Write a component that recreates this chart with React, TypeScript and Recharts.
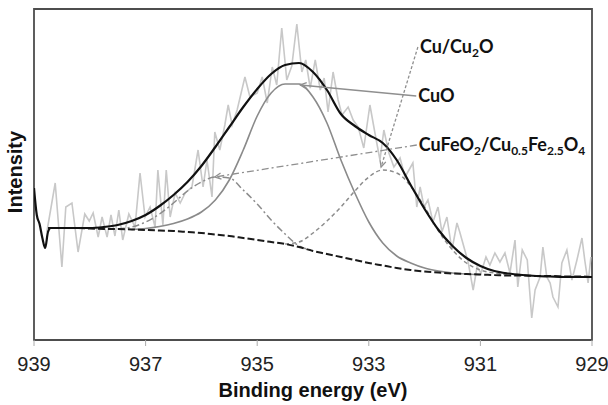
import { LineChart, Line, XAxis, YAxis, ReferenceArea, ReferenceLine } from 'recharts'

// binding energy grid (eV) for the fitted curves
const ENERGY = [
  939, 938.75, 938.5, 938.25, 938, 937.75, 937.5, 937.25, 937, 936.75, 936.5, 936.25, 936, 935.75,
  935.5, 935.25, 935, 934.75, 934.5, 934.25, 934, 933.75, 933.5, 933.25, 933, 932.75, 932.5, 932.25,
  932, 931.75, 931.5, 931.25, 931, 930.75, 930.5, 930.25, 930, 929.75, 929.5, 929.25, 929,
]

const background = [
  null, 112, 112, 112, 111.5, 111, 111, 110.5, 110, 109.5, 109, 108, 107, 105.5, 104, 102, 100, 98, 96,
  93, 89, 86, 83, 80, 77, 74.5, 72, 70, 68.5, 67.5, 66.5, 66, 65.5, 65, 64.5, 64.5, 64, 64, 63.5, 63.5, 63,
]

const cuO = [
  null, null, null, null, null, null, null, 110.5, 111.5, 113.5, 116.5, 121, 128, 140, 160, 190, 224, 247,
  256, 256, 243, 217, 180, 147, 118, 97, 84, 77, 72, 69, 67, 66, 65.5, null, null, null, null, null,
  null, null, null,
]

const cu2O = [
  null, null, null, null, null, null, null, null, null, null, null, null, null, null, null, null, null,
  null, 96, 98, 107, 119, 133, 149, 163, 170, 167, 154, 133, 109, 90, 77, 70, 67, 65, null, null, null,
  null, null, null,
]

const cuFeO2 = [
  null, null, null, null, null, null, 111, 113, 118, 126, 137, 149, 158, 163, 162, 150, 136, 120, 106,
  94, 90, null, null, null, null, null, null, null, null, null, null, null, null, null, null, null, null,
  null, null, null, null,
]

const totalEnergy = [
  939, 938.95, 938.9, 938.85, 938.8, 938.75, 938.7, 938.5, 938.25, 938, 937.75, 937.5, 937.25, 937,
  936.75, 936.5, 936.25, 936, 935.75, 935.5, 935.25, 935, 934.75, 934.5, 934.25, 934, 933.75, 933.5,
  933.25, 933, 932.75, 932.5, 932.25, 932, 931.75, 931.5, 931.25, 931, 930.75, 930.5, 930.25, 930,
  929.75, 929.5, 929.25, 929,
]
const totalIntensity = [
  152, 125, 116, 102, 92, 108, 112, 112, 112, 112, 113, 115, 119, 125, 134, 145, 158, 174, 193, 213, 233,
  251, 266, 275, 277, 268, 250, 226, 214, 205, 197, 180, 155, 131, 110, 94, 82, 74, 69, 66.5, 65, 64,
  63.5, 63, 63, 63,
]

// measured spectrum
const rawEnergy = [
  938.77, 938.62, 938.5, 938.43, 938.32, 938.21, 938.09, 938.01, 937.94, 937.85, 937.78, 937.69, 937.62,
  937.55, 937.48, 937.41, 937.3, 937.19, 937.1, 937.01, 936.92, 936.83, 936.78, 936.69, 936.63, 936.56,
  936.47, 936.38, 936.29, 936.17, 936.06, 935.97, 935.9, 935.81, 935.76, 935.67, 935.58, 935.52, 935.45,
  935.36, 935.22, 935.13, 935.0, 934.91, 934.82, 934.73, 934.65, 934.56, 934.47, 934.38, 934.29, 934.2,
  934.13, 934.05, 933.96, 933.87, 933.8, 933.73, 933.64, 933.55, 933.48, 933.37, 933.28, 933.19, 933.09,
  932.98, 932.89, 932.8, 932.73, 932.64, 932.55, 932.44, 932.35, 932.26, 932.21, 932.14, 932.08, 932.01,
  931.94, 931.85, 931.76, 931.69, 931.6, 931.51, 931.42, 931.37, 931.29, 931.22, 931.13, 931.06, 930.99,
  930.9, 930.83, 930.74, 930.65, 930.56, 930.47, 930.38, 930.33, 930.25, 930.16, 930.08, 930.02, 929.93,
  929.88, 929.81, 929.75, 929.7, 929.61, 929.54, 929.45, 929.36, 929.27, 929.18, 929.13, 929.07, 929.02,
]
const rawIntensity = [
  108, 157, 73, 133, 137, 88, 126, 119, 127, 103, 123, 103, 125, 104, 130, 100, 126, 113, 167, 123, 133,
  113, 170, 115, 170, 123, 147, 137, 147, 153, 190, 153, 180, 143, 208, 190, 215, 235, 215, 230, 263, 243,
  247, 263, 237, 273, 255, 312, 260, 274, 316, 268, 280, 252, 280, 250, 262, 228, 268, 240, 225, 233, 220,
  213, 192, 235, 207, 180, 210, 187, 173, 182, 163, 172, 177, 133, 153, 133, 140, 118, 133, 108, 123, 90,
  117, 108, 92, 78, 50, 73, 67, 83, 75, 87, 78, 87, 67, 100, 53, 90, 80, 22, 50, 63, 93, 63, 57, 43, 33,
  77, 90, 60, 80, 102, 80, 57, 83,
]

const xTicks = [939, 937, 935, 933, 931, 929]

// leader lines: label anchor -> arrow tip, in (eV, intensity)
const leaders = [
  { id: 'cu2o', from: [932.12, 293], to: [932.78, 173], dash: '3 2' },
  { id: 'cuo', from: [932.15, 244], to: [934.23, 255], dash: undefined },
  { id: 'cufe', from: [932.14, 195], to: [935.76, 163], dash: '7 3 2 3' },
]

const pts = (xs: number[], ys: (number | null)[]) => xs.map((e, i) => ({ e, v: ys[i] }))

const annFont = 'Lato, "Open Sans", sans-serif'
const axisFont = '"Liberation Sans", Arial, sans-serif'

function labelFor(id: string, x: number, y: number) {
  const common = { x, y, fontFamily: annFont, fontWeight: 700, fontSize: 18, fill: '#111' }
  if (id === 'cu2o')
    return (
      <text {...common}>
        <tspan>Cu/Cu</tspan>
        <tspan fontSize={12} dy={4}>2</tspan>
        <tspan dy={-4}>O</tspan>
      </text>
    )
  if (id === 'cuo') return <text {...common}>CuO</text>
  return (
    <text {...common}>
      <tspan>CuFeO</tspan>
      <tspan fontSize={12} dy={4}>2</tspan>
      <tspan dy={-4}>/Cu</tspan>
      <tspan fontSize={12} dy={4}>0.5</tspan>
      <tspan dy={-4}>Fe</tspan>
      <tspan fontSize={12} dy={4}>2.5</tspan>
      <tspan dy={-4}>O</tspan>
      <tspan fontSize={12} dy={4}>4</tspan>
    </text>
  )
}

function leaderShape(id: string, dash?: string) {
  return (props: any) => {
    const { x1, y1, x2, y2 } = props
    const a = Math.atan2(y1 - y2, x1 - x2)
    const len = 7
    const w = 0.45
    const ax1 = x2 + len * Math.cos(a + w)
    const ay1 = y2 + len * Math.sin(a + w)
    const ax2 = x2 + len * Math.cos(a - w)
    const ay2 = y2 + len * Math.sin(a - w)
    return (
      <g>
        <line x1={x1} y1={y1} x2={x2} y2={y2} stroke="#8f8f8f" strokeWidth={1.3} strokeDasharray={dash} />
        <polyline points={`${ax1},${ay1} ${x2},${y2} ${ax2},${ay2}`} fill="none" stroke="#8f8f8f" strokeWidth={1.3} />
        {labelFor(id, x1 + 2, y1 + 6)}
      </g>
    )
  }
}

export default function App() {
  return (
    <div style={{ position: 'absolute', left: 0, top: 0, background: '#fff' }}>
      <LineChart width={608} height={405} margin={{ top: 9, right: 16, bottom: 0, left: 0 }}>
        <XAxis
          dataKey="e"
          type="number"
          domain={[929, 939]}
          reversed
          ticks={xTicks}
          allowDataOverflow
          axisLine={false}
          tickLine={{ stroke: '#aaa' }}
          tickSize={6}
          tickMargin={11}
          height={65}
          tick={{ fill: '#222', fontSize: 20, fontFamily: axisFont }}
          label={() => (
            <text x={313} y={397} textAnchor="middle" fontFamily={axisFont} fontWeight={700} fontSize={20} fill="#111">
              Binding energy (eV)
            </text>
          )}
        />
        <YAxis
          type="number"
          domain={[0, 331]}
          allowDataOverflow
          width={34}
          tick={false}
          tickLine={false}
          axisLine={false}
          label={() => (
            <text
              x={22}
              y={172}
              transform="rotate(-90 22 172)"
              textAnchor="middle"
              fontFamily={axisFont}
              fontWeight={700}
              fontSize={20}
              fill="#111"
            >
              Intensity
            </text>
          )}
        />
        <Line data={pts(rawEnergy, rawIntensity)} dataKey="v" type="linear" stroke="#c8c8c8" strokeWidth={1.6} dot={false} activeDot={false} isAnimationActive={false} />
        <Line data={pts(ENERGY, cuFeO2)} dataKey="v" type="monotone" stroke="#8c8c8c" strokeWidth={1.5} strokeDasharray="7 3 2 3" dot={false} activeDot={false} isAnimationActive={false} />
        <Line data={pts(ENERGY, cu2O)} dataKey="v" type="monotone" stroke="#8c8c8c" strokeWidth={1.5} strokeDasharray="4 3" dot={false} activeDot={false} isAnimationActive={false} />
        <Line data={pts(ENERGY, cuO)} dataKey="v" type="monotone" stroke="#8a8a8a" strokeWidth={1.6} dot={false} activeDot={false} isAnimationActive={false} />
        <Line data={pts(ENERGY, background)} dataKey="v" type="monotone" stroke="#1a1a1a" strokeWidth={2} strokeDasharray="7 3" dot={false} activeDot={false} isAnimationActive={false} />
        <Line data={pts(totalEnergy, totalIntensity)} dataKey="v" type="monotone" stroke="#111" strokeWidth={2.2} dot={false} activeDot={false} isAnimationActive={false} />
        {leaders.map((l) => (
          <ReferenceLine
            key={l.id}
            segment={[
              { x: l.from[0], y: l.from[1] },
              { x: l.to[0], y: l.to[1] },
            ]}
            ifOverflow="visible"
            shape={leaderShape(l.id, l.dash)}
          />
        ))}
        <ReferenceArea x1={939} x2={929} y1={0} y2={331} fill="none" stroke="#4d4d4d" strokeWidth={1.8} ifOverflow="visible" />
      </LineChart>
    </div>
  )
}
